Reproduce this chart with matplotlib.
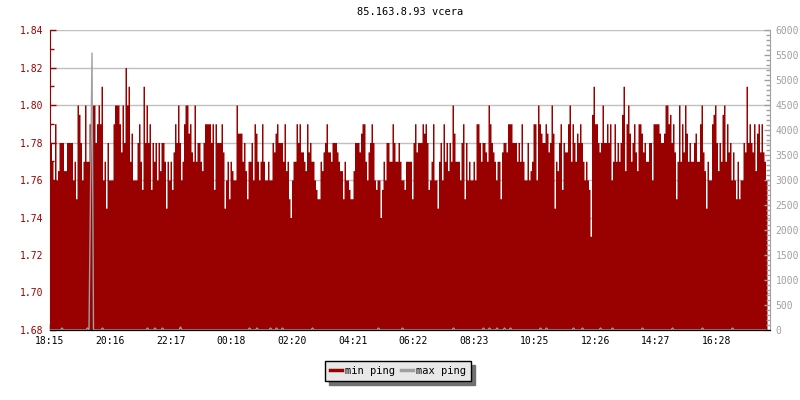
import numpy as np
import matplotlib
matplotlib.use("Agg")
import matplotlib.pyplot as plt
from matplotlib.ticker import MultipleLocator

plt.rcParams['font.family'] = ['DejaVu Sans Mono']

title = "85.163.8.93 vcera"
start = "18:15"
step_min = 3  # one sample every 3 minutes

# min ping (ms), left axis
min_ping = [
    1.78, 1.77, 1.76, 1.79, 1.76, 1.765, 1.78, 1.78, 1.78, 1.765, 1.765, 1.78, 1.78, 1.78, 1.78, 1.76, 1.77, 1.75, 1.80, 1.795,
    1.78, 1.76, 1.77, 1.80, 1.77, 1.77, 1.79, 1.785, 1.80, 1.80, 1.78, 1.79, 1.80, 1.79, 1.81, 1.76, 1.77, 1.745, 1.78, 1.76,
    1.76, 1.76, 1.79, 1.80, 1.80, 1.80, 1.79, 1.775, 1.80, 1.78, 1.82, 1.80, 1.81, 1.77, 1.785, 1.76, 1.76, 1.76, 1.78, 1.79,
    1.77, 1.755, 1.81, 1.78, 1.80, 1.78, 1.79, 1.755, 1.78, 1.77, 1.78, 1.76, 1.78, 1.765, 1.78, 1.78, 1.77, 1.745, 1.77, 1.76,

    1.77, 1.755, 1.775, 1.79, 1.78, 1.80, 1.78, 1.76, 1.77, 1.79, 1.80, 1.80, 1.785, 1.79, 1.775, 1.77, 1.80, 1.77, 1.78, 1.78,
    1.77, 1.765, 1.78, 1.79, 1.79, 1.79, 1.79, 1.78, 1.79, 1.755, 1.79, 1.78, 1.78, 1.78, 1.79, 1.775, 1.745, 1.76, 1.77, 1.75,
    1.77, 1.765, 1.76, 1.76, 1.80, 1.785, 1.785, 1.785, 1.77, 1.78, 1.765, 1.75, 1.77, 1.77, 1.78, 1.76, 1.79, 1.785, 1.77, 1.76,
    1.77, 1.79, 1.77, 1.76, 1.76, 1.77, 1.76, 1.76, 1.78, 1.775, 1.785, 1.79, 1.78, 1.78, 1.78, 1.77, 1.79, 1.765, 1.77, 1.75,

    1.74, 1.76, 1.77, 1.77, 1.79, 1.78, 1.79, 1.775, 1.775, 1.77, 1.765, 1.79, 1.775, 1.78, 1.77, 1.77, 1.76, 1.755, 1.75, 1.75,
    1.77, 1.765, 1.775, 1.78, 1.79, 1.775, 1.775, 1.77, 1.78, 1.78, 1.78, 1.775, 1.77, 1.765, 1.765, 1.75, 1.77, 1.76, 1.76, 1.755,
    1.75, 1.75, 1.765, 1.78, 1.78, 1.78, 1.775, 1.785, 1.79, 1.79, 1.77, 1.76, 1.775, 1.78, 1.79, 1.78, 1.76, 1.755, 1.76, 1.76,
    1.74, 1.755, 1.77, 1.76, 1.78, 1.78, 1.77, 1.77, 1.79, 1.78, 1.77, 1.77, 1.78, 1.77, 1.76, 1.76, 1.755, 1.77, 1.77, 1.77,

    1.77, 1.75, 1.78, 1.79, 1.775, 1.78, 1.78, 1.78, 1.79, 1.785, 1.79, 1.78, 1.755, 1.76, 1.77, 1.79, 1.76, 1.76, 1.745, 1.77,
    1.78, 1.76, 1.79, 1.77, 1.78, 1.765, 1.78, 1.77, 1.80, 1.785, 1.77, 1.77, 1.77, 1.76, 1.78, 1.79, 1.75, 1.78, 1.76, 1.77,
    1.76, 1.76, 1.77, 1.76, 1.79, 1.79, 1.78, 1.77, 1.78, 1.78, 1.775, 1.77, 1.80, 1.79, 1.78, 1.775, 1.77, 1.76, 1.77, 1.77,
    1.75, 1.775, 1.78, 1.78, 1.775, 1.79, 1.79, 1.79, 1.78, 1.78, 1.78, 1.77, 1.78, 1.77, 1.79, 1.77, 1.76, 1.76, 1.78, 1.76,

    1.765, 1.77, 1.79, 1.79, 1.76, 1.80, 1.79, 1.785, 1.78, 1.78, 1.79, 1.785, 1.775, 1.78, 1.80, 1.785, 1.745, 1.77, 1.765, 1.78,
    1.79, 1.755, 1.78, 1.775, 1.775, 1.79, 1.80, 1.77, 1.79, 1.78, 1.77, 1.785, 1.78, 1.79, 1.78, 1.77, 1.76, 1.77, 1.76, 1.755,
    1.73, 1.795, 1.81, 1.79, 1.79, 1.78, 1.775, 1.78, 1.80, 1.78, 1.78, 1.79, 1.78, 1.79, 1.76, 1.77, 1.79, 1.77, 1.78, 1.77,
    1.78, 1.795, 1.81, 1.765, 1.79, 1.80, 1.785, 1.77, 1.78, 1.79, 1.775, 1.765, 1.79, 1.79, 1.785, 1.775, 1.78, 1.77, 1.77, 1.78,

    1.78, 1.76, 1.79, 1.79, 1.79, 1.79, 1.785, 1.78, 1.78, 1.785, 1.80, 1.80, 1.79, 1.795, 1.78, 1.79, 1.775, 1.75, 1.77, 1.80,
    1.77, 1.79, 1.775, 1.80, 1.785, 1.77, 1.78, 1.77, 1.77, 1.78, 1.785, 1.77, 1.77, 1.79, 1.80, 1.775, 1.765, 1.745, 1.77, 1.76,
    1.76, 1.79, 1.795, 1.80, 1.78, 1.765, 1.78, 1.77, 1.795, 1.80, 1.77, 1.79, 1.775, 1.78, 1.76, 1.775, 1.76, 1.75, 1.77, 1.75,
    1.76, 1.76, 1.78, 1.775, 1.81, 1.78, 1.79, 1.78, 1.775, 1.79, 1.765, 1.785, 1.79, 1.775, 1.79, 1.775, 1.77, 1.76,
]

# max ping (ms), right axis: only the samples that are not ~0
max_ping_idx = [8, 25, 27, 28, 35, 65, 70, 75, 87, 133, 138, 147, 151, 155, 175, 219, 235, 269,
                289, 293, 298, 303, 307, 327, 331, 349, 355, 367, 375, 395, 415, 435, 455]
max_ping_val = [40, 40, 2700, 5540, 40, 40, 40, 40, 60, 40, 40, 40, 40, 40, 40, 40, 40, 40,
                40, 40, 40, 40, 40, 40, 40, 40, 40, 40, 40, 40, 40, 40, 40]

tick_labels = ["18:15", "20:16", "22:17", "00:18", "02:20", "04:21",
               "06:22", "08:23", "10:25", "12:26", "14:27", "16:28"]

red = '#990000'
grey = '#a0a0a0'


def minutes_since_start(label):
    h, m = label.split(':')
    sh, sm = start.split(':')
    return (int(h) * 60 + int(m) - int(sh) * 60 - int(sm)) % 1440


n = len(min_ping)
t = np.arange(n) * step_min
max_ping = np.zeros(n)
max_ping[max_ping_idx] = max_ping_val

fig = plt.figure(figsize=(8, 4), dpi=100)
ax = fig.add_axes([0.0625, 0.175, 0.9, 0.75])
ax2 = ax.twinx()

# min ping as filled steps
t_fill = np.append(t, t[-1] + step_min)
y_fill = np.append(min_ping, min_ping[-1])
ax.fill_between(t_fill, y_fill, 1.68, step='post', color=red, lw=0)
ax.set_ylim(1.68, 1.84)
ax.set_xlim(0, 1440)
ax.yaxis.set_major_locator(MultipleLocator(0.02))
ax.yaxis.set_minor_locator(MultipleLocator(0.01))
ax.yaxis.set_major_formatter(matplotlib.ticker.FormatStrFormatter('%.2f'))
ax.grid(axis='y', color='#c0c0c0', lw=1)
ax.set_axisbelow(True)

ax.set_xticks([minutes_since_start(s) for s in tick_labels])
ax.set_xticklabels(tick_labels)
ax.tick_params(axis='x', direction='in', length=4, width=1, pad=4, labelsize=7, colors='black')
ax.tick_params(axis='y', which='major', direction='in', length=4, width=1, pad=5,
               labelsize=7, colors=red, labelcolor=red)
ax.tick_params(axis='y', which='minor', direction='in', length=3, width=1, colors=red)

ax.spines['top'].set_visible(False)
ax.spines['right'].set_visible(False)
ax.spines['left'].set_color(red)
ax.spines['bottom'].set_color('black')

# max ping line
ax2.plot(t, max_ping, color=grey, lw=1.0)
ax2.set_ylim(0, 6000)
ax2.yaxis.set_major_locator(MultipleLocator(500))
ax2.yaxis.set_minor_locator(MultipleLocator(100))
ax2.tick_params(axis='y', which='major', direction='in', length=4, width=1, pad=4,
                labelsize=7, colors=grey)
ax2.tick_params(axis='y', which='minor', direction='in', length=3, width=1, colors=grey)
ax2.spines['top'].set_visible(False)
ax2.spines['left'].set_visible(False)
ax2.spines['right'].set_color(grey)
ax2.spines['bottom'].set_color('black')

ax.set_title(title, fontsize=7.5, pad=11)

handles = [plt.Line2D([], [], color=red, lw=2.5), plt.Line2D([], [], color=grey, lw=2.5)]
leg = fig.legend(handles, ["min ping", "max ping"], loc='center', bbox_to_anchor=(0.4975, 0.0725),
                 ncol=2, fontsize=7.5, frameon=True, fancybox=False, edgecolor='black',
                 facecolor='#e8e8e8', framealpha=1, handlelength=1.1, handletextpad=0.3,
                 columnspacing=0.6, borderpad=0.5,
                 shadow={'color': '#707070', 'alpha': 1, 'ox': 3, 'oy': -3})
leg.get_frame().set_linewidth(1)

fig.savefig("out.png", dpi=100)
